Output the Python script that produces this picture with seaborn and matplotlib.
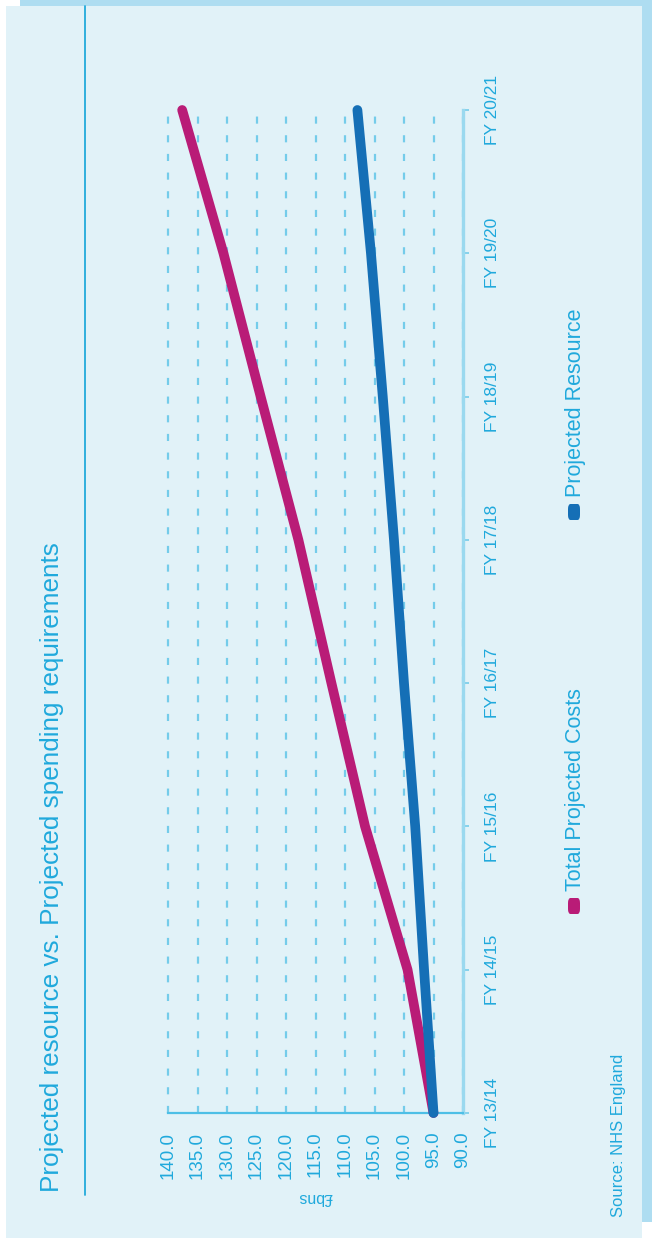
import numpy as np
import pandas as pd
import seaborn as sns
import matplotlib
matplotlib.use("Agg")
import matplotlib.pyplot as plt
from matplotlib.patches import Rectangle, FancyBboxPatch
from matplotlib.lines import Line2D

# ---- data -------------------------------------------------------------
years = ["FY 13/14", "FY 14/15", "FY 15/16", "FY 16/17",
         "FY 17/18", "FY 18/19", "FY 19/20", "FY 20/21"]
total_projected_costs = [95.0, 99.4, 106.6, 112.3, 117.9, 124.3, 130.6, 137.6]
projected_resource = [95.0, 96.6, 98.1, 100.0, 101.7, 103.6, 105.6, 107.9]
series_names = ["Total Projected Costs", "Projected Resource"]
value_ticks = [90.0, 95.0, 100.0, 105.0, 110.0, 115.0, 120.0, 125.0,
               130.0, 135.0, 140.0]
title_text = "Projected resource vs. Projected spending requirements"
unit_label = "£bns"
source_text = "Source: NHS England"

# ---- style ------------------------------------------------------------
W, H = 652, 1247
DPI = 100
CYAN = "#1FA9DC"
GRID = "#74CCEA"
PANEL = "#E1F2F8"
FRAME = "#AEDDF1"
palette = {"Total Projected Costs": "#B91C77", "Projected Resource": "#156FB6"}

sns.set_theme(style="white")
plt.rcParams["font.family"] = ["Liberation Sans", "DejaVu Sans"]
plt.rcParams["text.color"] = CYAN


def fx(x):
    return x / W


def fy(y):
    return 1 - y / H


fig = plt.figure(figsize=(W / DPI, H / DPI), dpi=DPI, facecolor="white")

# framed panel behind the chart
fig.add_artist(Rectangle((fx(20), fy(1222)), fx(652) - fx(20), fy(0) - fy(1222),
                         transform=fig.transFigure, facecolor=FRAME,
                         edgecolor="none", zorder=-20))
fig.add_artist(Rectangle((fx(6), fy(1238)), fx(642) - fx(6), fy(6) - fy(1238),
                         transform=fig.transFigure, facecolor=PANEL,
                         edgecolor="none", zorder=-19))
# rule beside the title
fig.add_artist(Line2D([fx(85), fx(85)], [fy(6), fy(1195)],
                      transform=fig.transFigure, color="#22AADB", lw=1.3))

# ---- chart (value axis runs horizontally, years run upward) ------------
ax = fig.add_axes([fx(168), fy(1113), fx(463) - fx(168), fy(110) - fy(1113)])
ax.set_facecolor("none")

pos = np.arange(len(years))
df = pd.DataFrame({
    "pos": np.concatenate([pos, pos]),
    "value": total_projected_costs + projected_resource,
    "series": [series_names[0]] * len(years) + [series_names[1]] * len(years),
})
sns.lineplot(data=df, x="value", y="pos", hue="series", palette=palette,
             orient="y", linewidth=7.0, legend=False, ax=ax,
             solid_capstyle="round", solid_joinstyle="round", zorder=5)
for ln in ax.get_lines():
    ln.set_clip_on(False)

ax.set_xlim(140, 90)
ax.set_ylim(0, 7)

ax.set_xticks(value_ticks)
ax.set_xticklabels([f"{v:.1f}" for v in value_ticks], rotation=90,
                   fontsize=13.5, color=CYAN)
ax.tick_params(axis="x", length=0, pad=13.5)

ax.yaxis.tick_right()
ax.set_yticks(pos)
ax.set_yticklabels(years, rotation=90, fontsize=12.5, color=CYAN, va="center")
ax.tick_params(axis="y", length=4, width=1.2, color=GRID, pad=12)

ax.grid(axis="x", color=GRID, linestyle=(0, (3.2, 5.2)), linewidth=1.6)
ax.grid(axis="y", visible=False)
for gl in ax.get_xgridlines():
    gl.set_clip_on(False)

for side in ("left", "top"):
    ax.spines[side].set_visible(False)
ax.spines["bottom"].set_color("#4DBFE6")
ax.spines["bottom"].set_linewidth(1.6)
ax.spines["right"].set_color("#9AD9EF")
ax.spines["right"].set_linewidth(2.4)

ax.set_xlabel(unit_label, rotation=180, fontsize=11.5, color=CYAN, labelpad=8)
ax.set_ylabel("")

# ---- title, legend and source (all rotated with the chart) -------------
fig.text(fx(52), fy(1192), title_text, rotation=90, ha="center", va="bottom",
         fontsize=18.8, color=CYAN)

legend_items = [(series_names[0], 906, 891), (series_names[1], 512, 497)]
for name, mark_y, text_y in legend_items:
    fig.add_artist(FancyBboxPatch((fx(568), fy(mark_y + 8)), fx(12), fy(0) - fy(16),
                                  boxstyle="round,pad=0,rounding_size=0.004",
                                  transform=fig.transFigure,
                                  facecolor=palette[name], edgecolor="none"))
    fig.text(fx(575), fy(text_y), name, rotation=90, ha="center", va="bottom",
             fontsize=15.5, color=CYAN)

fig.text(fx(619), fy(1217), source_text, rotation=90, ha="center", va="bottom",
         fontsize=12, color=CYAN)

fig.savefig("out.png", dpi=DPI, facecolor="white")
